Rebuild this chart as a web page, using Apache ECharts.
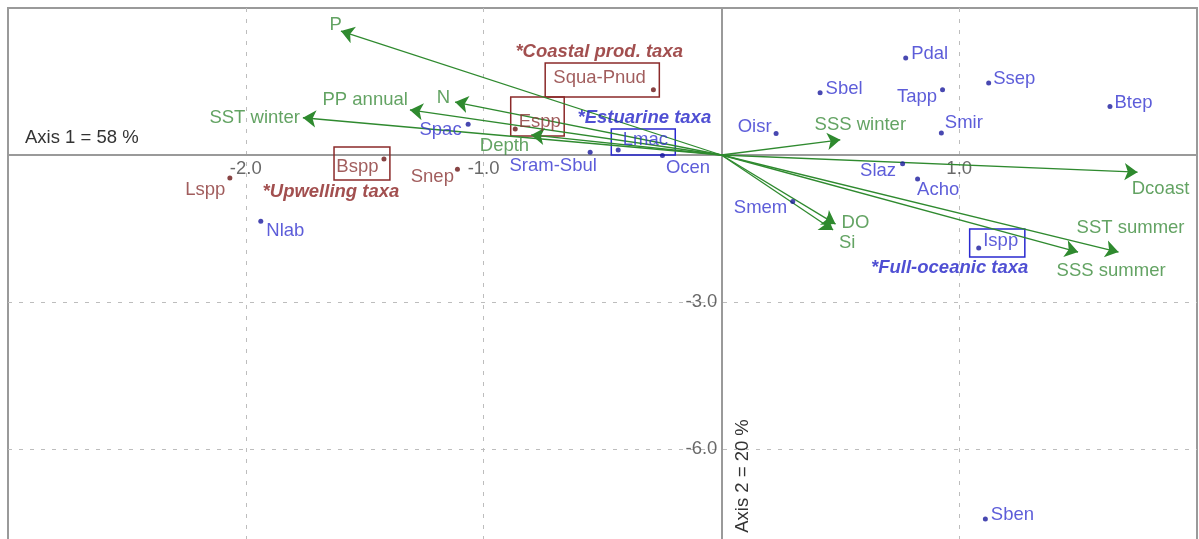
<!DOCTYPE html>
<html>
<head>
<meta charset="utf-8">
<script src="https://cdn.jsdelivr.net/npm/echarts/dist/echarts.min.js"></script>
<style>
  html, body { margin: 0; padding: 0; background: #fff; }
  #chart-container { width: 1199px; height: 539px; }
</style>
</head>
<body>
<div id="chart-container"></div>
<script>
// environmental vectors (arrow tips, from origin)
var vecNames = ['P', 'SST winter', 'PP annual', 'N', 'Depth', 'SSS winter', 'Dcoast', 'SST summer', 'SSS summer', 'DO', 'Si'];
var vecX = [-1.60, -1.76, -1.31, -1.12, -0.80, 0.50, 1.75, 1.67, 1.50, 0.48, 0.47];
var vecY = [2.53, 0.76, 0.92, 1.08, 0.41, 0.31, -0.35, -1.98, -1.98, -1.41, -1.53];

// taxa (blue)
var blueNames = ['Pdal', 'Sbel', 'Tapp', 'Ssep', 'Btep', 'Smir', 'Oisr', 'Slaz', 'Acho', 'Ispp', 'Smem', 'Sben', 'Lmac', 'Ocen', 'Sram-Sbul', 'Spac', 'Nlab'];
var blueX = [0.775, 0.415, 0.93, 1.124, 1.634, 0.925, 0.23, 0.762, 0.825, 1.082, 0.30, 1.11, -0.434, -0.248, -0.552, -1.065, -1.937];
var blueY = [1.98, 1.27, 1.33, 1.47, 0.99, 0.45, 0.44, -0.18, -0.49, -1.90, -0.95, -7.43, 0.10, -0.01, 0.055, 0.63, -1.35];

// taxa (red)
var redNames = ['Squa-Pnud', 'Espp', 'Bspp', 'Snep', 'Lspp'];
var redX = [-0.286, -0.867, -1.419, -1.11, -2.067];
var redY = [1.33, 0.53, -0.08, -0.29, -0.47];

// group boxes [x0, y0, x1, y1]
var redBoxes = [[-0.741, 1.878, -0.261, 1.184], [-0.886, 1.184, -0.661, 0.388], [-1.629, 0.163, -1.394, -0.51]];
var blueBoxes = [[-0.463, 0.53, -0.194, 0.0], [1.044, -1.51, 1.276, -2.08]];

// group titles
var groupNames = ['*Coastal prod. taxa', '*Estuarine taxa', '*Upwelling taxa', '*Full-oceanic taxa'];
var groupX = [-0.514, -0.324, -1.642, 0.96];
var groupY = [2.10, 0.755, -0.755, -2.306];
var groupIsBlue = [false, true, false, true];

// tick labels shown along the zero lines
var xTickLabels = [-2, -1, 1];
var yTickLabels = [-3, -6];

var FONT = 'Liberation Sans, Arial, sans-serif';
var FS = 18.5;
var GREEN = '#2f8a2f';

// label placement: [position, dx, dy]
var labelPlace = {
  'Pdal': ['right', -2, -4], 'Sbel': ['right', -2, -4], 'Tapp': ['left', 2, 7], 'Ssep': ['right', -3, -4],
  'Btep': ['right', -3, -4], 'Smir': ['right', -4, -10], 'Oisr': ['left', 3, -7], 'Slaz': ['left', 1, 7],
  'Acho': ['right', -8, 11], 'Ispp': ['right', -3, -7], 'Smem': ['left', 2, 6], 'Sben': ['right', -2, -4],
  'Lmac': ['right', -3, -10], 'Ocen': ['right', -4, 12], 'Sram-Sbul': ['bottom', -37, -3], 'Spac': ['left', 1, 6],
  'Nlab': ['right', -2, 10],
  'Squa-Pnud': ['left', 0, -12], 'Espp': ['right', -4, -7], 'Bspp': ['left', 2, 8], 'Snep': ['left', 4, 8],
  'Lspp': ['left', 3, 12],
  'P': ['left', 6, -6], 'SST winter': ['left', 2, 0], 'PP annual': ['left', 3, -10], 'N': ['left', 0, -4],
  'Depth': ['left', 3, 11], 'SSS winter': ['top', 20, 0], 'Dcoast': ['bottom', 23, 2], 'SST summer': ['top', 12, -10],
  'SSS summer': ['bottom', 33, 4], 'DO': ['right', 1, -1], 'Si': ['bottom', 14, -2]
};

function pointData(names, xs, ys) {
  return names.map(function (n, i) {
    var p = labelPlace[n] || ['right', 0, 0];
    return { name: n, value: [xs[i], ys[i]], label: { position: p[0], offset: [p[1], p[2]] } };
  });
}

function boxData(boxes) {
  return boxes.map(function (b) {
    return [{ coord: [b[0], b[1]] }, { coord: [b[2], b[3]] }];
  });
}

var dom = document.getElementById('chart-container');
var myChart = echarts.init(dom, null, { renderer: 'canvas' });

var gridLine = { show: true, showMinLine: false, showMaxLine: false, lineStyle: { color: '#bdbdbd', type: [4, 7], width: 1 } };

var option = {
  animation: false,
  textStyle: { fontFamily: FONT },
  grid: {
    left: 8, right: 2, top: 8, bottom: -57,
    containLabel: false, outerBoundsMode: 'none',
    show: true, borderColor: '#9a9a9a', borderWidth: 2
  },
  xAxis: {
    type: 'value', min: -3, max: 2, interval: 1,
    axisLine: { onZero: true, lineStyle: { color: '#9a9a9a', width: 2 } },
    axisTick: { show: false },
    axisLabel: { show: false },
    splitLine: gridLine
  },
  yAxis: {
    type: 'value', min: -9, max: 3, interval: 3,
    axisLine: { onZero: true, lineStyle: { color: '#9a9a9a', width: 2 } },
    axisTick: { show: false },
    axisLabel: { show: false },
    splitLine: gridLine
  },
  graphic: [
    { type: 'text', x: 25, y: 138, style: { text: 'Axis 1 = 58 %', fill: '#333', font: FS + 'px ' + FONT, verticalAlign: 'middle' } },
    { type: 'text', x: 743, y: 476, rotation: Math.PI / 2, style: { text: 'Axis 2 = 20 %', fill: '#333', font: FS + 'px ' + FONT, align: 'center', verticalAlign: 'middle' } }
  ],
  series: [
    {
      name: 'x ticks',
      type: 'scatter',
      symbolSize: 0,
      silent: true,
      label: { show: true, position: 'bottom', distance: 4, color: '#444', fontSize: FS, fontFamily: FONT,
        formatter: function (p) { return p.value[0].toFixed(1); } },
      data: xTickLabels.map(function (v) { return [v, 0]; }),
      z: 2
    },
    {
      name: 'y ticks',
      type: 'scatter',
      symbolSize: 0,
      silent: true,
      label: { show: true, position: 'left', distance: 4, color: '#444', fontSize: FS, fontFamily: FONT,
        formatter: function (p) { return p.value[1].toFixed(1); } },
      data: yTickLabels.map(function (v) { return [0, v]; }),
      z: 2
    },
    {
      name: 'vectors',
      type: 'lines',
      coordinateSystem: 'cartesian2d',
      symbol: ['none', 'arrow'],
      symbolSize: 13,
      lineStyle: { color: GREEN, width: 1.3, opacity: 1 },
      data: vecNames.map(function (n, i) {
        return { name: n, coords: [[0, 0], [vecX[i], vecY[i]]] };
      }),
      z: 3
    },
    {
      name: 'vector labels',
      type: 'scatter',
      symbolSize: 0,
      label: { show: true, formatter: '{b}', color: '#3c8c3c', fontSize: FS, distance: 5, fontFamily: FONT },
      data: pointData(vecNames, vecX, vecY),
      z: 4
    },
    {
      name: 'blue taxa',
      type: 'scatter',
      symbolSize: 5,
      itemStyle: { color: '#1a1a9e' },
      label: { show: true, formatter: '{b}', color: '#3535d0', fontSize: FS, distance: 5, fontFamily: FONT },
      data: pointData(blueNames, blueX, blueY),
      markArea: {
        silent: true,
        itemStyle: { color: 'rgba(0,0,0,0)', borderColor: '#2a2ad0', borderWidth: 1.5 },
        data: boxData(blueBoxes)
      },
      z: 5
    },
    {
      name: 'red taxa',
      type: 'scatter',
      symbolSize: 5,
      itemStyle: { color: '#6a1515' },
      label: { show: true, formatter: '{b}', color: '#8a3535', fontSize: FS, distance: 5, fontFamily: FONT },
      data: pointData(redNames, redX, redY),
      markArea: {
        silent: true,
        itemStyle: { color: 'rgba(0,0,0,0)', borderColor: '#8b2a2a', borderWidth: 1.5 },
        data: boxData(redBoxes)
      },
      z: 5
    },
    {
      name: 'groups',
      type: 'scatter',
      symbolSize: 0,
      label: {
        show: true, position: 'inside', formatter: '{b}', fontSize: FS,
        fontStyle: 'italic', fontWeight: 'bold', fontFamily: FONT
      },
      data: groupNames.map(function (n, i) {
        return { name: n, value: [groupX[i], groupY[i]], label: { color: groupIsBlue[i] ? '#2323c8' : '#8b2323' } };
      }),
      z: 6
    }
  ]
};

myChart.setOption(option);
window.addEventListener('resize', myChart.resize);
</script>
</body>
</html>
